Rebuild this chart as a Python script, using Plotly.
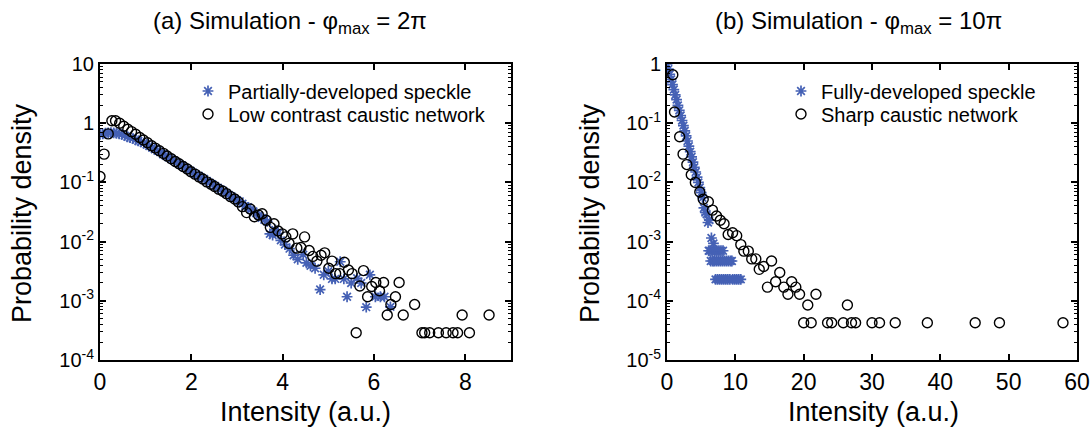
import plotly.graph_objects as go
from plotly.subplots import make_subplots

# ---------------- (a) phi_max = 2*pi ----------------
a_speckle_x = [0.00, 0.06, 0.12, 0.18, 0.24, 0.30, 0.36, 0.42, 0.48, 0.54,
               0.60, 0.66, 0.72, 0.78, 0.84, 0.90, 0.96, 1.02, 1.08, 1.14,
               1.20, 1.26, 1.32, 1.38, 1.44, 1.50, 1.56, 1.62, 1.68, 1.74,
               1.80, 1.86, 1.92, 1.98, 2.04, 2.10, 2.16, 2.22, 2.28, 2.34,
               2.40, 2.46, 2.52, 2.58, 2.64, 2.70, 2.76, 2.82, 2.88, 2.94,
               3.00, 3.06, 3.12, 3.18, 3.24, 3.30, 3.36, 3.42, 3.48, 3.54,
               3.60, 3.66, 3.72, 3.78, 3.84, 3.90, 3.96,
               4.05, 4.15, 4.24, 4.33, 4.45, 4.52, 4.61, 4.71, 4.82, 4.90,
               5.00, 5.08, 5.15, 5.26, 5.34, 5.41, 5.50, 5.63, 5.72, 5.83,
               5.91, 6.03, 6.14, 6.23, 6.36]
a_speckle_y = [0.646, 0.661, 0.676, 0.684, 0.692, 0.684, 0.676, 0.661, 0.646, 0.617,
               0.589, 0.569, 0.550, 0.525, 0.501, 0.484, 0.462, 0.437, 0.412, 0.389,
               0.363, 0.343, 0.324, 0.299, 0.282, 0.266, 0.248, 0.234, 0.216, 0.204,
               0.193, 0.178, 0.168, 0.158, 0.146, 0.136, 0.130, 0.120, 0.114, 0.106,
               0.0989, 0.0933, 0.0871, 0.0813, 0.0759, 0.0716, 0.0661, 0.0617, 0.0582, 0.0537,
               0.0501, 0.0479, 0.0437, 0.0398, 0.0380, 0.0347, 0.0324, 0.0302, 0.0275, 0.0251,
               0.0234, 0.0219, 0.0135, 0.0129, 0.0158, 0.0138, 0.0105,
               0.00891, 0.00759, 0.00589, 0.00501, 0.00603, 0.00437, 0.00389, 0.00355, 0.00155, 0.00275,
               0.00316, 0.00234, 0.00234, 0.00457, 0.00234, 0.00117, 0.00200, 0.00240, 0.00200, 0.00078,
               0.00275, 0.00117, 0.00117, 0.00117, 0.00079]

a_caustic_x = [0.00, 0.09, 0.18, 0.26, 0.34, 0.43, 0.52, 0.61, 0.69, 0.78,
               0.87, 0.95, 1.04, 1.13, 1.21, 1.30, 1.39, 1.47, 1.56, 1.65,
               1.73, 1.82, 1.91, 1.99, 2.08, 2.17, 2.25, 2.34, 2.43, 2.51,
               2.60, 2.69, 2.77, 2.86, 2.95, 3.03, 3.12, 3.21, 3.29, 3.38,
               3.47, 3.55, 3.64, 3.73, 3.81, 3.90, 3.99, 4.07, 4.14, 4.22,
               4.31, 4.40, 4.48, 4.58, 4.66, 4.75, 4.84, 4.92, 5.01, 5.08,
               5.16, 5.25, 5.35, 5.44, 5.52, 5.61, 5.69, 5.77, 5.86, 5.95,
               6.04, 6.12, 6.21, 6.29, 6.37, 6.47, 6.55, 6.64, 6.89, 7.05,
               7.11, 7.22, 7.41, 7.58, 7.73, 7.83, 7.93, 8.09, 8.52]
a_caustic_y = [0.126, 0.300, 0.660, 1.10, 1.10, 1.00, 0.890, 0.790, 0.720, 0.650,
               0.575, 0.519, 0.468, 0.417, 0.380, 0.343, 0.309, 0.279, 0.251, 0.226,
               0.207, 0.186, 0.168, 0.151, 0.138, 0.124, 0.114, 0.102, 0.0933, 0.0851,
               0.0767, 0.0708, 0.0646, 0.0575, 0.0525, 0.0468, 0.0389, 0.0309, 0.0355, 0.0263,
               0.0282, 0.0295, 0.0229, 0.0174, 0.0200, 0.0151, 0.0135, 0.0120, 0.00933, 0.0135,
               0.00776, 0.00794, 0.0120, 0.00708, 0.00562, 0.00468, 0.00589, 0.00646, 0.00355, 0.00468,
               0.00288, 0.00288, 0.00447, 0.00331, 0.00288, 0.000288, 0.00178, 0.00324, 0.00117, 0.00174,
               0.00204, 0.00148, 0.00204, 0.000576, 0.000864, 0.00117, 0.00204, 0.000576, 0.000864, 0.000288,
               0.000288, 0.000288, 0.000288, 0.000288, 0.000288, 0.000288, 0.000576, 0.000288, 0.000576]

# ---------------- (b) phi_max = 10*pi ----------------
b_speckle_x = [0.0, 0.2, 0.4, 0.6, 0.8, 1.0, 1.2, 1.4, 1.6, 1.8,
               2.0, 2.2, 2.4, 2.6, 2.8, 3.0, 3.2, 3.4, 3.6, 3.8,
               4.0, 4.2, 4.4, 4.6, 4.8, 5.0, 5.2, 5.4, 5.6, 5.8,
               6.0, 6.1, 6.2, 6.3, 6.4, 6.5, 6.6, 6.7, 6.8, 6.9,
               7.0, 7.1, 7.2, 7.3, 7.4, 7.5, 7.6, 7.7, 7.8, 7.9,
               8.0, 8.1, 8.2, 8.3, 8.4, 8.6, 8.7, 8.9, 9.0, 9.2,
               9.3, 9.5, 9.6, 9.9, 10.2, 10.5, 10.8]
b_speckle_y = [1.00, 0.82, 0.67, 0.55, 0.45, 0.37, 0.30, 0.25, 0.20, 0.165,
               0.135, 0.111, 0.091, 0.074, 0.061, 0.050, 0.041, 0.033, 0.027, 0.022,
               0.018, 0.015, 0.0123, 0.0100, 0.0082, 0.0067, 0.0055, 0.0037, 0.0031, 0.0029,
               0.0021, 0.0007, 0.0023, 0.0007, 0.00047, 0.00115, 0.0007, 0.00047, 0.00093, 0.00047,
               0.0007, 0.00023, 0.00047, 0.0007, 0.00023, 0.00047, 0.0007, 0.00023, 0.00047, 0.0007,
               0.00023, 0.00047, 0.0007, 0.00023, 0.00047, 0.00023, 0.00047, 0.00023, 0.00047, 0.00023,
               0.00047, 0.00047, 0.00023, 0.00023, 0.00023, 0.00023, 0.00023]

b_caustic_x = [0.85, 1.10, 1.85, 2.35, 2.90, 3.55, 4.15, 4.80, 5.30, 6.05,
               6.65, 7.25, 7.80, 8.35, 8.95, 9.60, 10.2, 10.8, 11.25, 11.9,
               12.4, 13.0, 13.5, 14.15, 14.7, 15.3, 15.9, 16.5, 17.1, 17.7,
               18.25, 18.85, 19.4, 20.0, 20.6, 21.1, 21.8, 23.5, 24.1, 25.8,
               26.4, 27.0, 27.6, 30.0, 31.1, 33.4, 38.1, 45.1, 48.65, 57.95]
b_caustic_y = [0.66, 0.155, 0.059, 0.030, 0.0200, 0.0135, 0.0100, 0.0069, 0.0052, 0.0047,
               0.0034, 0.0027, 0.0023, 0.0020, 0.00132, 0.00141, 0.00126, 0.00089, 0.00069, 0.00069,
               0.00051, 0.00051, 0.00034, 0.00038, 0.00017, 0.00047, 0.00021, 0.00030, 0.00017, 0.000129,
               0.00021, 0.00017, 0.000129, 0.0000427, 0.000085, 0.0000427, 0.000129, 0.0000427, 0.0000427, 0.0000427,
               0.000085, 0.0000427, 0.0000427, 0.0000427, 0.0000427, 0.0000427, 0.0000427, 0.0000427, 0.0000427, 0.0000427]

a_xticks = [0, 2, 4, 6, 8]
b_xticks = [0, 10, 20, 30, 40, 50, 60]
a_yticks = [10, 1, 0.1, 0.01, 0.001, 0.0001]
a_yticktext = ["10", "1", "10<sup>-1</sup>", "10<sup>-2</sup>", "10<sup>-3</sup>", "10<sup>-4</sup>"]
b_yticks = [1, 0.1, 0.01, 0.001, 0.0001, 0.00001]
b_yticktext = ["1", "10<sup>-1</sup>", "10<sup>-2</sup>", "10<sup>-3</sup>", "10<sup>-4</sup>", "10<sup>-5</sup>"]

W, H = 1091, 432
BLUE = "#4561b5"
FONT = "Liberation Sans, Arial, sans-serif"


def fx(p):
    return p / W


def fy(p):
    return 1 - p / H


def minor_vals(lo, hi):
    vals = []
    for e in range(lo, hi):
        for m in range(2, 10):
            vals.append(m * 10.0 ** e)
    return vals


fig = make_subplots(rows=1, cols=2)

speckle_marker = dict(symbol="asterisk-open", size=9, color=BLUE,
                      line=dict(color=BLUE, width=1.7))
circle_marker = dict(symbol="circle-open", size=10, color="black",
                     line=dict(color="black", width=1.4))

# one single-entry legend per row so each row can be placed freely
fig.add_trace(go.Scatter(x=a_speckle_x, y=a_speckle_y, mode="markers",
                         name="Partially-developed speckle", marker=speckle_marker,
                         legend="legend"), row=1, col=1)
fig.add_trace(go.Scatter(x=a_caustic_x, y=a_caustic_y, mode="markers",
                         name="Low contrast caustic network", marker=circle_marker,
                         legend="legend2"), row=1, col=1)
fig.add_trace(go.Scatter(x=b_speckle_x, y=b_speckle_y, mode="markers",
                         name="Fully-developed speckle", marker=speckle_marker,
                         legend="legend3"), row=1, col=2)
fig.add_trace(go.Scatter(x=b_caustic_x, y=b_caustic_y, mode="markers",
                         name="Sharp caustic network", marker=circle_marker,
                         legend="legend4"), row=1, col=2)

axis_common = dict(showline=True, linecolor="black", linewidth=2, mirror="ticks",
                   ticks="inside", ticklen=6, tickwidth=1.5, tickcolor="black",
                   showgrid=False, zeroline=False, automargin=False)

fig.update_xaxes(**axis_common)
fig.update_yaxes(**axis_common)

xtick_font = dict(family=FONT, size=23, color="black")
ytick_font = dict(family=FONT, size=20, color="black")
minor_style = dict(tickmode="array", ticks="inside", ticklen=3, tickwidth=1,
                   tickcolor="black", showgrid=False)
legend_style = dict(xanchor="left", yanchor="middle", bgcolor="rgba(0,0,0,0)",
                    itemwidth=30, font=dict(family=FONT, size=20, color="black"))

fig.update_layout(
    xaxis=dict(domain=[fx(100), fx(511)], range=[0, 9], tickvals=a_xticks,
               tickfont=xtick_font),
    xaxis2=dict(domain=[fx(667), fx(1077)], range=[0, 60], tickvals=b_xticks,
                tickfont=xtick_font),
    yaxis=dict(domain=[fy(360), fy(64)], type="log", range=[-4, 1],
               tickvals=a_yticks, ticktext=a_yticktext, tickfont=ytick_font,
               minor=dict(tickvals=minor_vals(-4, 1), **minor_style)),
    yaxis2=dict(domain=[fy(360), fy(64)], type="log", range=[-5, 0],
                tickvals=b_yticks, ticktext=b_yticktext, tickfont=ytick_font,
                minor=dict(tickvals=minor_vals(-5, 0), **minor_style)),
    legend=dict(x=fx(188), y=fy(91), **legend_style),
    legend2=dict(x=fx(188), y=fy(114), **legend_style),
    legend3=dict(x=fx(781), y=fy(91), **legend_style),
    legend4=dict(x=fx(781), y=fy(114), **legend_style),
    width=W, height=H,
    margin=dict(l=0, r=0, t=0, b=0),
    paper_bgcolor="white", plot_bgcolor="white",
    showlegend=True,
)

title_font = dict(family=FONT, size=24, color="black")
label_font = dict(family=FONT, size=27, color="black")

fig.add_annotation(text="(a) Simulation - φ<sub>max</sub> = 2π", xref="paper", yref="paper",
                   x=fx(290), y=fy(23), showarrow=False, xanchor="center", yanchor="middle",
                   font=title_font)
fig.add_annotation(text="(b) Simulation - φ<sub>max</sub> = 10π", xref="paper", yref="paper",
                   x=fx(858), y=fy(23), showarrow=False, xanchor="center", yanchor="middle",
                   font=title_font)

for xc in (306, 873):
    fig.add_annotation(text="Intensity (a.u.)", xref="paper", yref="paper",
                       x=fx(xc), y=fy(412), showarrow=False, xanchor="center",
                       yanchor="middle", font=label_font)
for xc in (22, 590):
    fig.add_annotation(text="Probability density", xref="paper", yref="paper",
                       x=fx(xc), y=fy(213), showarrow=False, xanchor="center",
                       yanchor="middle", textangle=-90, font=label_font)

fig.write_html("out.html")
